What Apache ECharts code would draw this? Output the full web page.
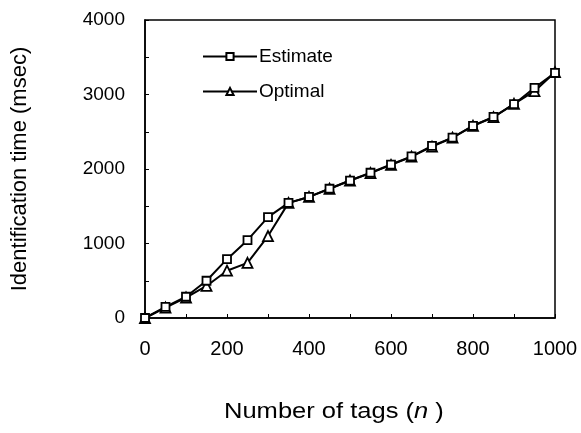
<!DOCTYPE html>
<html>
<head>
<meta charset="utf-8">
<script src="https://cdn.jsdelivr.net/npm/echarts@6/dist/echarts.min.js"></script>
<style>html,body{margin:0;padding:0;background:#fff}#c{width:581px;height:433px}</style>
</head>
<body>
<div id="c"></div>
<script>
var xValues = [0,50,100,150,200,250,300,350,400,450,500,550,600,650,700,750,800,850,900,950,1000];
var estimate = [0,150,285,500,790,1045,1355,1545,1625,1735,1845,1950,2060,2170,2310,2420,2580,2700,2870,3090,3290];
var optimal  = [0,140,275,430,635,740,1100,1545,1625,1735,1845,1945,2055,2165,2300,2420,2580,2695,2875,3045,3300];
var seriesNames = ['Estimate','Optimal'];

function pairs(v){ return xValues.map(function(x,i){ return [x, v[i]]; }); }
var FONT = '"Liberation Sans", Arial, sans-serif';
var chart = echarts.init(document.getElementById('c'), null, {renderer:'canvas'});
chart.setOption({
  animation:false,
  backgroundColor:'#fff',
  grid:{left:145,right:26,top:20,bottom:115,show:true,borderColor:'#000',borderWidth:1.5,backgroundColor:'transparent'},
  graphic:[{
    type:'text', x:224, y:401, scaleX:1.16, scaleY:1,
    style:{
      text:'{a|Number of tags (}{b|n}{a| )}',
      rich:{a:{fontSize:22,fontFamily:FONT,fill:'#000'},b:{fontSize:22,fontFamily:FONT,fontStyle:'italic',fill:'#000'}}
    }
  }],
  legend:{
    orient:'vertical', left:197, top:42, itemGap:16, itemWidth:54, itemHeight:9,
    data:seriesNames,
    textStyle:{fontSize:19,fontFamily:FONT,color:'#000',padding:[0,0,0,-3]}
  },
  xAxis:{
    type:'value', min:0, max:1000, interval:100,
    axisLine:{lineStyle:{color:'#000',width:1.5}},
    axisTick:{inside:true,length:4,lineStyle:{color:'#000'}},
    splitLine:{show:false},
    axisLabel:{fontSize:20,fontFamily:FONT,color:'#000',margin:21,
      formatter:function(v){ return v%200===0 ? String(v) : ''; }}
  },
  yAxis:{
    type:'value', min:0, max:4000, interval:500,
    name:'Identification time (msec)', nameLocation:'middle', nameGap:114,
    nameTextStyle:{fontSize:22,fontFamily:FONT,color:'#000'},
    axisLine:{lineStyle:{color:'#000',width:1.5}},
    axisTick:{inside:true,length:4,lineStyle:{color:'#000'}},
    splitLine:{show:false},
    axisLabel:{fontSize:19,fontFamily:FONT,color:'#000',margin:20,
      formatter:function(v){ return v%1000===0 ? String(v) : ''; }}
  },
  series:[
    {name:seriesNames[0], type:'line', data:pairs(estimate), symbol:'rect', symbolSize:8,
     lineStyle:{color:'#000',width:2}, itemStyle:{color:'#fff',borderColor:'#000',borderWidth:1.8}, z:3},
    {name:seriesNames[1], type:'line', data:pairs(optimal), symbol:'triangle', symbolSize:10,
     lineStyle:{color:'#000',width:2}, itemStyle:{color:'#fff',borderColor:'#000',borderWidth:1.8}, z:2}
  ]
});
</script>
</body>
</html>
